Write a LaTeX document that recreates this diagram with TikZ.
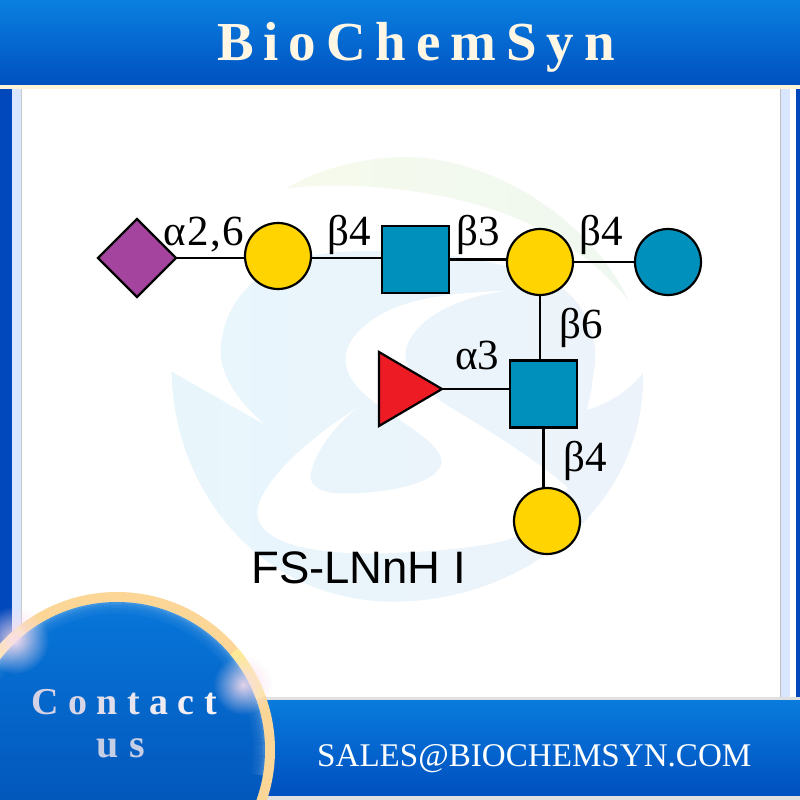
\documentclass[tikz,border=0pt]{standalone}
\usepackage{fontspec}
\setmainfont{Liberation Serif}
\newfontfamily\arialfont{Liberation Sans}
\usetikzlibrary{shapes.geometric,fadings}
\definecolor{galgold}{HTML}{FFD400}
\definecolor{glcblue}{HTML}{0090BC}
\definecolor{fucred}{HTML}{ED1C24}
\definecolor{sialic}{HTML}{A5449F}
\definecolor{wmblueL}{HTML}{E8F6FC}
\definecolor{wmblueR}{HTML}{EDF3FA}
\definecolor{wmgreen}{HTML}{EFF8F0}
\definecolor{wmtip}{HTML}{F6FAEC}
\definecolor{headtop}{HTML}{0A80E0}
\definecolor{headbot}{HTML}{0050C0}
\definecolor{cream}{HTML}{FFF3D8}
\definecolor{titlecream}{HTML}{FFF7E4}
\definecolor{sideblue}{HTML}{0048BC}
\definecolor{sidelight}{HTML}{D8E6FF}
\definecolor{ringgold}{HTML}{FBD696}
\definecolor{glowpink}{HTML}{F8DCEC}
\tikzfading[name=glowfade, inner color=transparent!0, outer color=transparent!100]
\tikzset{
  glyph/.style={draw=black,line width=2.2pt,inner sep=0pt,outer sep=0pt},
  galcircle/.style={glyph,circle,fill=galgold,minimum size=66pt},
  glccircle/.style={glyph,circle,fill=glcblue,minimum size=66pt},
  glcsquare/.style={glyph,rectangle,fill=glcblue,minimum size=67pt},
  siadiamond/.style={glyph,diamond,fill=sialic,aspect=1,minimum width=78pt,minimum height=78pt},
  fuctri/.style={glyph,isosceles triangle,isosceles triangle stretches,fill=fucred,shape border rotate=0,minimum width=74pt,minimum height=63pt,anchor=lower side},
  bond/.style={draw=black,line width=2.2pt},
  linkage/.style={anchor=base west,inner sep=0pt,font=\fontsize{43}{43}\selectfont},
  glow/.style={path fading=glowfade}
}
\begin{document}
\begin{tikzpicture}[x=1pt,y=-1pt]
\useasboundingbox (0,0) rectangle (800,800);
\clip (0,0) rectangle (800,800);
\fill[white] (0,0) rectangle (800,800);
% side bands
\fill[sideblue] (0,88) rectangle (12,720);
\fill[sidelight] (12,88) rectangle (21,720);
\fill[black!22] (21,88) rectangle (22,720);
\fill[black!25] (780,88) rectangle (781,700);
\fill[sidelight] (781,88) rectangle (790,700);
\fill[sideblue] (796,88) rectangle (800,700);
% watermark
\begin{scope}[shift={(160,140)},x=0.3333pt,y=-0.3333pt]
 \shade[left color=wmtip,right color=wmgreen]
   (380,145) .. controls (500,70) and (680,40) .. (800,55)
   .. controls (1050,85) and (1300,260) .. (1405,480)
   .. controls (1280,330) and (1100,210) .. (800,160)
   .. controls (650,135) and (500,130) .. (380,145) -- cycle;
 \shade[left color=wmblueL,right color=wmblueR]
   (35,695) -- (315,855) .. controls (210,760) and (170,680) .. (185,600)
   .. controls (210,440) and (340,345) .. (560,335)
   .. controls (800,325) and (1060,360) .. (1200,440)
   .. controls (1290,500) and (1320,620) .. (1300,700)
   .. controls (1295,750) and (1290,780) .. (1280,810)
   .. controls (1350,790) and (1410,750) .. (1449,699)
   .. controls (1460,1080) and (1110,1385) .. (700,1385)
   .. controls (310,1385) and (40,1060) .. (35,695) -- cycle;
 \fill[white]
   (1040,452) .. controls (880,460) and (700,470) .. (600,570)
   .. controls (540,630) and (545,690) .. (600,750)
   .. controls (680,830) and (850,900) .. (845,970)
   .. controls (830,1040) and (640,1065) .. (530,1060)
   .. controls (470,1055) and (440,1030) .. (455,990)
   .. controls (470,930) and (530,850) .. (590,805)
   .. controls (470,880) and (310,1010) .. (292,1110)
   .. controls (285,1200) and (430,1240) .. (620,1240)
   .. controls (800,1240) and (1000,1220) .. (1070,1190)
   -- (1225,1045)
   .. controls (1130,960) and (1000,880) .. (900,820)
   .. controls (780,750) and (720,680) .. (740,620)
   .. controls (770,530) and (900,470) .. (1040,452) -- cycle;
\end{scope}
% glycan
\node[siadiamond] (sia) at (137,258) {};
\node[galcircle] (gal1) at (278,256) {};
\node[glcsquare] (sq1) at (415.5,259.5) {};
\node[galcircle] (gal2) at (540,262) {};
\node[glccircle] (glc) at (668,262) {};
\node[glcsquare] (sq2) at (543.5,394) {};
\node[fuctri] (fuc) at (379,389) {};
\node[galcircle] (gal3) at (547,521) {};
\draw[bond] (sia.east) -- (gal1.west |- sia.east);
\draw[bond] (gal1.east |- sia.east) -- (sq1.west |- sia.east);
\draw[bond] (sq1.east) -- (gal2.west |- sq1.east);
\draw[bond] (gal2.east) -- (glc.west);
\draw[bond] (gal2.south) -- (gal2.south |- sq2.north);
\draw[bond] (fuc.apex) -- (sq2.west |- fuc.apex);
\draw[bond] (sq2.south) -- (sq2.south |- gal3.north);
\node[linkage] (la) at (163,245) {α\kern2pt2\kern1pt,\kern2pt6};
\node[linkage] (lb) at (327,245) {β4};
\node[linkage] (lc) at (456,245) {β3};
\node[linkage] (ld) at (579,245) {β4};
\node[linkage] (le) at (559,338) {β6};
\node[linkage] (lf) at (455,369) {α3};
\node[linkage] (lg) at (563,471) {β4};
\node[anchor=base west,inner sep=0pt,font=\arialfont\fontsize{45.5}{45.5}\selectfont] (name) at (251,583) {FS-LNnH I};
% header
\shade[top color=headtop,bottom color=headbot] (0,0) rectangle (800,85);
\fill[cream] (0,85) rectangle (800,88.5);
\node[anchor=base west,inner sep=0pt,text=titlecream,font=\bfseries\fontsize{55}{55}\selectfont\addfontfeature{LetterSpace=18}] (title) at (217,60) {BioChemSyn};
% bottom bar
\fill[black!12!white] (240,697) rectangle (800,800);
\shade[top color=headtop!90!headbot,bottom color=headbot] (240,700) rectangle (800,795);
\node[anchor=base west,inner sep=0pt,text=white,font=\fontsize{33.1}{33.1}\selectfont] (mail) at (317,766) {SALES@BIOCHEMSYN.COM};
% contact circle
\fill[ringgold] (117,750) circle (158);
\shade[top color=headtop!80!headbot,bottom color=headbot!90!black] (117,750) circle (148);
\foreach \rr/\op in {147.5/.22,146/.16,144.5/.12,143/.09,141.5/.07,140/.05,138.5/.04,137/.03}
  \draw[white,opacity=\op,line width=1.6pt] (117,750) ++(-170:\rr) arc (-170:10:\rr);
\draw[white!60!yellow,line width=10pt,opacity=.55] (117,750) ++(-150:153) arc (-150:-128:153);
\draw[white!60!yellow,line width=10pt,opacity=.55] (117,750) ++(-40:153) arc (-40:-20:153);
\fill[glowpink,glow,opacity=.95] (15,640) circle (34);
\fill[glowpink,glow,opacity=.9] (243,685) circle (30);
\node[anchor=base west,inner sep=0pt,font=\bfseries\fontsize{38}{38}\selectfont] (contact) at (31,714)
 {\textcolor[HTML]{D4D2E4}{C}\kern9.5pt\textcolor[HTML]{D8D6E6}{o}\kern9.5pt\textcolor[HTML]{E0DEEA}{n}\kern9.5pt\textcolor[HTML]{E8E4EE}{t}\kern9.5pt\textcolor[HTML]{EEEAF2}{a}\kern9.5pt\textcolor[HTML]{F2EEF4}{c}\kern9.5pt\textcolor[HTML]{F6F2F6}{t}};
\node[anchor=base west,inner sep=0pt,text={rgb,255:red,198;green,206;blue,230},font=\bfseries\fontsize{40}{40}\selectfont] (us) at (96,757) {u\kern11pt s};
\end{tikzpicture}
\end{document}
